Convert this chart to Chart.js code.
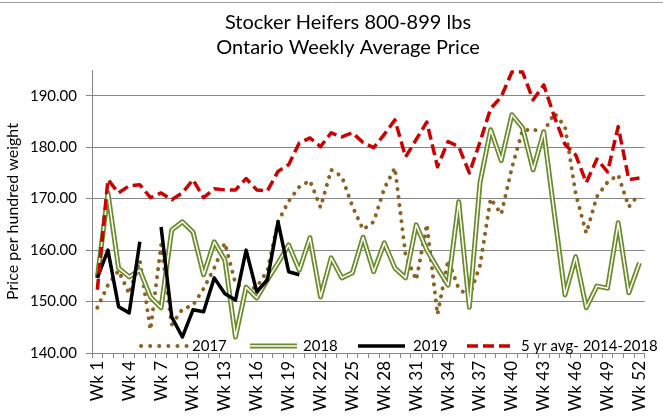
<!DOCTYPE html>
<html>
<head>
<meta charset="utf-8">
<script src="https://cdn.jsdelivr.net/npm/chart.js@4.4.1/dist/chart.umd.min.js"></script>
<style>
  html, body { margin: 0; padding: 0; background: #fff; }
  #wrap { width: 663px; height: 418px; }
</style>
</head>
<body>
<div id="wrap"><canvas id="cattleChart" width="663" height="418"></canvas></div>
<script>
// Stocker heifers 800-899 lbs, weekly average price (Ontario)

const weeks = Array.from({ length: 52 }, (_, i) => 'Wk ' + (i + 1));

const y2017 = [148.8, 153.2, 156.0, 151.5, 158.0, 144.5, 161.0, 145.5, 148.5, 149.3,
    152.5, 156.5, 161.4, 153.5, 152.3, 152.8, 156.0, 165.5, 169.5, 172.3,
    173.5, 168.3, 175.6, 174.3, 168.5, 164.0, 165.5, 172.0, 176.0, 159.0,
    154.2, 165.0, 147.5, 158.1, 152.5, 151.0, 157.0, 170.0, 167.0, 176.0,
    183.3, 183.4, 183.0, 186.6, 184.0, 171.0, 163.3, 170.4, 173.2, 174.6,
    168.4, 171.0];

const y2018 = [154.6, 171.1, 156.5, 154.8, 156.1, 150.9, 148.8, 163.9, 165.5, 163.5,
    155.2, 161.6, 158.1, 143.1, 152.8, 150.7, 154.2, 157.5, 161.0, 156.1,
    162.4, 150.9, 158.5, 154.6, 155.6, 162.5, 155.8, 161.4, 156.5, 154.6,
    164.9, 160.0, 156.5, 153.2, 169.4, 148.9, 173.1, 183.4, 177.4, 186.3,
    183.8, 175.6, 183.0, 167.0, 151.3, 158.7, 148.8, 153.0, 152.6, 165.3,
    151.7, 157.5];

const y2019 = [154.6, 160.0, 149.0, 147.8, 161.6, null, 164.5, 147.0, 143.1, 148.4,
    148.0, 154.6, 151.5, 150.3, 160.0, 151.9, 154.2, 165.5, 155.8, 155.2];

const avg5yr = [152.3, 173.7, 171.1, 172.5, 172.7, 170.2, 171.1, 169.8, 171.1, 173.7,
    170.2, 171.9, 171.7, 171.7, 173.9, 171.7, 171.5, 175.3, 176.6, 180.8,
    181.8, 180.1, 182.8, 182.0, 182.8, 180.9, 179.9, 182.5, 185.3, 178.1,
    181.5, 184.9, 176.2, 181.1, 180.1, 175.0, 181.0, 187.5, 189.8, 194.6,
    194.6, 189.2, 192.1, 185.9, 180.5, 178.5, 173.1, 177.7, 175.2, 184.0,
    173.7, 174.0];

const yTicks = [140, 150, 160, 170, 180, 190];

const FONT = 'Lato, "Liberation Sans", sans-serif';
const GRID = '#868686';
const BROWN = '#8b6224';
const GREEN = '#6b8c2a';
const RED = '#cc0000';

// title, frame line and the legend sitting inside the plot
const decor = {
    id: 'decor',
    afterDraw(chart) {
        const ctx = chart.ctx;
        ctx.save();
        ctx.strokeStyle = '#9a9a9a';
        ctx.lineWidth = 1;
        ctx.beginPath();
        ctx.moveTo(0, 2.5);
        ctx.lineTo(663, 2.5);
        ctx.stroke();

        ctx.fillStyle = '#000';
        ctx.font = '20px ' + FONT;
        ctx.textAlign = 'center';
        ctx.textBaseline = 'middle';
        ctx.fillText('Stocker Heifers 800-899 lbs', 348, 23);
        ctx.fillText('Ontario Weekly Average Price', 348, 48);

        const ly = 346;
        const line = (x1, x2, color, width, dash, cap) => {
            ctx.beginPath();
            ctx.setLineDash(dash || []);
            ctx.lineCap = cap || 'butt';
            ctx.strokeStyle = color;
            ctx.lineWidth = width;
            ctx.moveTo(x1, ly);
            ctx.lineTo(x2, ly);
            ctx.stroke();
        };
        line(141, 187, BROWN, 4, [0.1, 9], 'round');
        line(250, 297, GREEN, 5);
        line(250, 297, '#fff', 1.5);
        line(358, 405, '#000', 3.5);
        line(467, 515, RED, 3.5, [11, 5]);
        ctx.setLineDash([]);

        ctx.font = '15px ' + FONT;
        ctx.textAlign = 'left';
        ctx.fillStyle = '#000';
        ctx.fillText('2017', 192, ly);
        ctx.fillText('2018', 303, ly);
        ctx.fillText('2019', 413, ly);
        ctx.fillText('5 yr avg- 2014-2018', 521, ly);
        ctx.restore();
    }
};

const ctx = document.getElementById('cattleChart').getContext('2d');

new Chart(ctx, {
    type: 'line',
    data: {
        labels: weeks,
        datasets: [{
                label: '5 yr avg- 2014-2018',
                data: avg5yr,
                borderColor: RED,
                borderWidth: 3.5,
                borderDash: [11, 5],
                order: 0
            },
            {
                label: '2019',
                data: y2019,
                borderColor: '#000',
                borderWidth: 3.5,
                order: 1
            },
            {
                label: '2018 inner',
                data: y2018,
                borderColor: '#fff',
                borderWidth: 1.5,
                order: 2
            },
            {
                label: '2018',
                data: y2018,
                borderColor: GREEN,
                borderWidth: 5,
                order: 3
            },
            {
                label: '2017',
                data: y2017,
                borderColor: BROWN,
                borderWidth: 4,
                borderDash: [0.1, 8],
                borderCapStyle: 'round',
                order: 4
            }
        ]
    },
    options: {
        responsive: false,
        devicePixelRatio: 1,
        animation: false,
        spanGaps: false,
        elements: {
            point: { radius: 0, hoverRadius: 0 },
            line: { tension: 0, fill: false, borderJoinStyle: 'round' }
        },
        layout: {
            padding: { top: 70, right: 16, left: 0, bottom: 0 }
        },
        plugins: {
            legend: { display: false },
            title: { display: false },
            tooltip: { enabled: false }
        },
        scales: {
            x: {
                offset: true,
                afterFit: function(scale) {
                    scale.height = 65;
                },
                grid: {
                    offset: true,
                    drawOnChartArea: false,
                    drawTicks: true,
                    tickLength: 5,
                    color: GRID
                },
                border: { color: GRID, width: 1 },
                ticks: {
                    autoSkip: false,
                    maxRotation: 90,
                    minRotation: 90,
                    padding: 3,
                    color: '#000',
                    font: { family: FONT, size: 17 },
                    callback: function(value, index) {
                        return index % 3 === 0 ? weeks[index] : '';
                    }
                }
            },
            y: {
                min: 140,
                max: 195,
                afterFit: function(scale) {
                    scale.width = 92;
                },
                afterBuildTicks: function(scale) {
                    scale.ticks = yTicks.map(v => ({ value: v }));
                },
                grid: {
                    color: GRID,
                    tickLength: 6
                },
                border: { color: GRID, width: 1 },
                ticks: {
                    padding: 9,
                    color: '#000',
                    font: { family: FONT, size: 15 },
                    callback: function(value) {
                        return value.toFixed(2);
                    }
                },
                title: {
                    display: true,
                    text: 'Price per hundred weight',
                    color: '#000',
                    font: { family: FONT, size: 16 },
                    padding: { top: 3, bottom: 0 }
                }
            }
        }
    },
    plugins: [decor]
});
</script>
</body>
</html>
